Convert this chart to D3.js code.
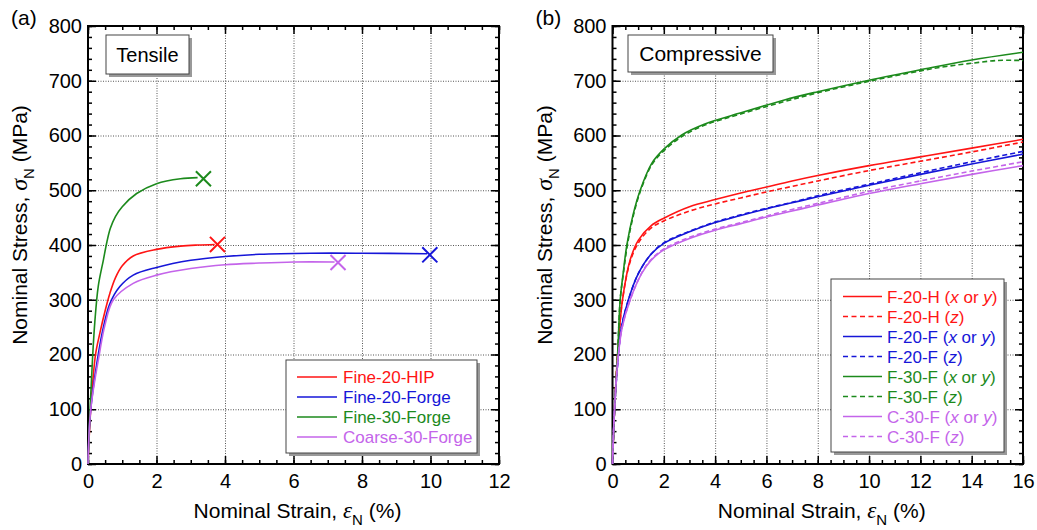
<!DOCTYPE html>
<html>
<head>
<meta charset="utf-8">
<script src="https://cdn.jsdelivr.net/npm/d3@7"></script>
<style>
  body { margin: 0; background: #fff; }
  svg { font-family: "Liberation Sans", Arial, sans-serif; }
</style>
</head>
<body>
<div id="chart"></div>
<script>
// ---- data: [strain %, stress MPa] ----
// (a) tensile
var fine20Hip = [[0,0],[0.08,100],[0.22,200],[0.35,240],[0.5,280],[0.64,312],[0.8,340],[1.0,362],[1.32,380],[2,392],[2.7,398],[3.2,400],[3.7,401]];
var fine20Forge = [[0,0],[0.08,100],[0.3,200],[0.45,250],[0.64,293],[0.93,324],[1.32,345],[2,359],[3,372],[4,379],[5,383],[6.5,385],[8,385],[9.9,384]];
var fine30Forge = [[0,0],[0.06,100],[0.13,190],[0.2,260],[0.3,325],[0.45,373],[0.55,405],[0.65,430],[0.8,452],[1.0,470],[1.42,494],[2,512],[2.7,521],[3.2,523]];
var coarse30Forge = [[0,0],[0.08,100],[0.33,200],[0.5,255],[0.74,300],[1.32,330],[2,345],[3,357],[4,364],[5,367],[6,369],[7.2,369]];
// fracture points (X markers), same order as the tensile series
var tensileBreaks = [[3.78,401],[9.98,382],[3.37,521],[7.3,368]];
var tensileNames = ["Fine-20-HIP", "Fine-20-Forge", "Fine-30-Forge", "Coarse-30-Forge"];

// (b) compressive
var f20hXY = [[0,0],[0.08,100],[0.2,200],[0.39,300],[0.69,373],[1.01,409],[1.5,435],[2,449],[3,470],[4,483],[5,495],[6,506],[7,517],[8,527],[10,545],[12,561],[14,577],[16,593]];
var f20hZ = [[0,0],[0.08,100],[0.2,200],[0.39,300],[0.69,370],[1.01,404],[1.5,431],[2,444],[3,462],[4,475],[5,486],[6,497],[7,507],[8,517],[10,536],[12,553],[14,570],[16,588]];
var f20fXY = [[0,0],[0.08,100],[0.23,200],[0.35,250],[0.62,300],[1.01,348],[1.5,383],[2,403],[3,424],[4,441],[5,454],[6,466],[7,477],[8,488],[10,509],[12,529],[14,548],[16,566]];
var f20fZ = [[0,0],[0.08,100],[0.23,200],[0.35,250],[0.62,300],[1.01,348],[1.5,383],[2,404],[3,425],[4,442],[5,455],[6,467],[7,478],[8,490],[10,511],[12,532],[14,552],[16,571]];
var f30fXY = [[0,0],[0.08,100],[0.2,200],[0.3,300],[0.42,350],[0.56,400],[0.8,455],[1.08,500],[1.53,549],[2,575],[2.7,601],[3.6,621],[4.9,640],[6.7,665],[8,680],[10,701],[12,720],[14,738],[16,752]];
var f30fZ = [[0,0],[0.08,100],[0.2,200],[0.3,300],[0.43,350],[0.58,400],[0.82,455],[1.1,500],[1.55,548],[2,572],[2.7,598],[3.6,619],[4.9,638],[6.7,662],[8,678],[10,699],[12,718],[13,726],[14,732],[15,737],[16,737]];
var c30fXY = [[0,0],[0.08,100],[0.23,200],[0.38,250],[0.69,300],[1.14,348],[1.5,372],[2,391],[3,412],[4,427],[5,439],[6,451],[7,462],[8,473],[10,494],[12,512],[14,529],[16,545]];
var c30fZ = [[0,0],[0.08,100],[0.23,200],[0.38,250],[0.69,300],[1.14,349],[1.5,373],[2,393],[3,414],[4,429],[5,441],[6,453],[7,465],[8,476],[10,498],[12,517],[14,535],[16,552]];
var compNames = ["F-20-H", "F-20-H", "F-20-F", "F-20-F", "F-30-F", "F-30-F", "C-30-F", "C-30-F"];
var compDirs = ["xy", "z", "xy", "z", "xy", "z", "xy", "z"];

// axis ticks
var stressTicks = [0, 100, 200, 300, 400, 500, 600, 700, 800];
var tensileStrainTicks = [0, 2, 4, 6, 8, 10, 12];
var compStrainTicks = [0, 2, 4, 6, 8, 10, 12, 14, 16];

var colors = ["#ff1414", "#1616d8", "#1c8a1c", "#c464ea"];

var W = 1037, H = 530;
var plotTop = 26, plotBottom = 464;

var svg = d3.select("#chart").append("svg").attr("width", W).attr("height", H);

// draws one panel: frame, grid, ticks, labels; returns scales + group
function makePanel(left, right, xMax, xTicks, tag) {
  var x = d3.scaleLinear().domain([0, xMax]).range([left, right]);
  var y = d3.scaleLinear().domain([0, 800]).range([plotBottom, plotTop]);
  var g = svg.append("g");
  var w = right - left, h = plotBottom - plotTop;

  var xMinor = d3.range(0, xMax + 0.001, 0.5);
  var yMinor = d3.range(0, 801, 20);

  // dotted grid
  g.append("g").attr("transform", "translate(0," + plotBottom + ")")
    .call(d3.axisBottom(x).tickValues(xTicks.slice(1, -1)).tickSize(-h).tickFormat(""))
    .call(grid);
  g.append("g").attr("transform", "translate(" + left + ",0)")
    .call(d3.axisLeft(y).tickValues(stressTicks.slice(1, -1)).tickSize(-w).tickFormat(""))
    .call(grid);

  // inward ticks on all four sides
  g.append("g").attr("transform", "translate(0," + plotBottom + ")")
    .call(d3.axisBottom(x).tickValues(xMinor).tickSize(-4).tickFormat("")).call(tk);
  g.append("g").attr("transform", "translate(0," + plotTop + ")")
    .call(d3.axisTop(x).tickValues(xMinor).tickSize(-4).tickFormat("")).call(tk);
  g.append("g").attr("transform", "translate(" + left + ",0)")
    .call(d3.axisLeft(y).tickValues(yMinor).tickSize(-4).tickFormat("")).call(tk);
  g.append("g").attr("transform", "translate(" + right + ",0)")
    .call(d3.axisRight(y).tickValues(yMinor).tickSize(-4).tickFormat("")).call(tk);
  g.append("g").attr("transform", "translate(0," + plotTop + ")")
    .call(d3.axisTop(x).tickValues(xTicks).tickSize(-8).tickFormat("")).call(tk);
  g.append("g").attr("transform", "translate(" + right + ",0)")
    .call(d3.axisRight(y).tickValues(stressTicks).tickSize(-8).tickFormat("")).call(tk);

  // labelled axes
  g.append("g").attr("transform", "translate(0," + plotBottom + ")")
    .call(d3.axisBottom(x).tickValues(xTicks).tickSize(-8).tickPadding(10).tickFormat(d3.format("d")))
    .call(tk).call(lbl);
  g.append("g").attr("transform", "translate(" + left + ",0)")
    .call(d3.axisLeft(y).tickValues(stressTicks).tickSize(-8).tickPadding(6).tickFormat(d3.format("d")))
    .call(tk).call(lbl);

  // frame
  g.append("rect").attr("x", left).attr("y", plotTop).attr("width", w).attr("height", h)
    .style("fill", "none").style("stroke", "#000").style("stroke-width", 2);

  // axis titles
  var xt = g.append("text").attr("x", (left + right) / 2 + 4).attr("y", 518)
    .attr("text-anchor", "middle").style("font-size", "21px").style("fill", "#000");
  xt.append("tspan").text("Nominal Strain, ");
  xt.append("tspan").text("ε").style("font-family", "Liberation Serif, serif").style("font-style", "italic").style("font-size", "23px");
  xt.append("tspan").text("N").attr("dy", 7).style("font-size", "15px");
  xt.append("tspan").text(" (%)").attr("dy", -7);

  var yt = g.append("text").attr("transform", "translate(" + (left - 61) + ",225) rotate(-90)")
    .attr("text-anchor", "middle").style("font-size", "21px").style("fill", "#000");
  yt.append("tspan").text("Nominal Stress, ");
  yt.append("tspan").text("σ").style("font-family", "Liberation Serif, serif").style("font-style", "italic").style("font-size", "24px");
  yt.append("tspan").text("N").attr("dy", 7).style("font-size", "15px");
  yt.append("tspan").text(" (MPa)").attr("dy", -7);

  g.append("text").attr("x", left - 77).attr("y", 25).text(tag)
    .style("font-size", "21px").style("fill", "#000");

  return { x: x, y: y, g: g };
}

function grid(sel) {
  sel.select(".domain").remove();
  sel.selectAll("line").style("stroke", "#555").style("stroke-width", 1).style("stroke-dasharray", "1,1.5");
}
function tk(sel) {
  sel.select(".domain").remove();
  sel.selectAll("line").style("stroke", "#000").style("stroke-width", 1.5);
}
function lbl(sel) {
  sel.selectAll("text").style("font-size", "20px").style("font-family", "Liberation Sans, Arial, sans-serif").style("fill", "#000");
}

function drawCurve(p, data, color, dashed) {
  var line = d3.line()
    .x(function (d) { return p.x(d[0]); })
    .y(function (d) { return p.y(d[1]); })
    .curve(d3.curveCatmullRom.alpha(0.5));
  p.g.append("path").datum(data).attr("d", line)
    .style("fill", "none").style("stroke", color).style("stroke-width", 1.6)
    .style("stroke-dasharray", dashed ? "5,3" : null);
}

// box with a grey drop shadow
function shadowBox(g, x, y, w, h) {
  g.append("rect").attr("x", x + 3).attr("y", y + 3).attr("width", w).attr("height", h).style("fill", "#999");
  g.append("rect").attr("x", x).attr("y", y).attr("width", w).attr("height", h)
    .style("fill", "#fff").style("stroke", "#444").style("stroke-width", 1);
}

// ---- panel (a) tensile ----
var pa = makePanel(88, 499, 12, tensileStrainTicks, "(a)");
var tensileSeries = [fine20Hip, fine20Forge, fine30Forge, coarse30Forge];
tensileSeries.forEach(function (s, i) { drawCurve(pa, s, colors[i], false); });

pa.g.selectAll("path.brk").data(tensileBreaks).enter().append("path").attr("class", "brk")
  .attr("d", d3.symbol().type(d3.symbolX).size(150))
  .attr("transform", function (d) { return "translate(" + pa.x(d[0]) + "," + pa.y(d[1]) + ")"; })
  .style("fill", "none").style("stroke-width", 2)
  .style("stroke", function (d, i) { return colors[i]; });

shadowBox(pa.g, 106, 35, 83, 39);
pa.g.append("text").attr("x", 147.5).attr("y", 62).attr("text-anchor", "middle").text("Tensile")
  .style("font-size", "20px").style("fill", "#000");

shadowBox(pa.g, 286, 360, 191, 93);
tensileNames.forEach(function (name, i) {
  var yy = 377 + i * 20;
  pa.g.append("line").attr("x1", 297).attr("x2", 337).attr("y1", yy).attr("y2", yy)
    .style("stroke", colors[i]).style("stroke-width", 1.6);
  pa.g.append("text").attr("x", 343).attr("y", yy + 6).text(name)
    .style("font-size", "17px").style("fill", colors[i]);
});

// ---- panel (b) compressive ----
var pb = makePanel(612.5, 1023, 16, compStrainTicks, "(b)");
var compSeries = [f20hXY, f20hZ, f20fXY, f20fZ, f30fXY, f30fZ, c30fXY, c30fZ];
compSeries.forEach(function (s, i) {
  drawCurve(pb, s, colors[Math.floor(i / 2)], compDirs[i] == "z");
});

shadowBox(pb.g, 628, 35, 145, 37);
pb.g.append("text").attr("x", 700.5).attr("y", 61).attr("text-anchor", "middle").text("Compressive")
  .style("font-size", "21px").style("fill", "#000");

shadowBox(pb.g, 831, 279, 173, 173);
compNames.forEach(function (name, i) {
  var yy = 296.5 + i * 20;
  var c = colors[Math.floor(i / 2)];
  pb.g.append("line").attr("x1", 843).attr("x2", 882).attr("y1", yy).attr("y2", yy)
    .style("stroke", c).style("stroke-width", 1.6)
    .style("stroke-dasharray", compDirs[i] == "z" ? "5,3.5" : null);
  var t = pb.g.append("text").attr("x", 887).attr("y", yy + 6).style("font-size", "17px").style("fill", c);
  t.append("tspan").text(name + " (");
  if (compDirs[i] == "z") {
    t.append("tspan").text("z").style("font-style", "italic");
  } else {
    t.append("tspan").text("x").style("font-style", "italic");
    t.append("tspan").text(" or ");
    t.append("tspan").text("y").style("font-style", "italic");
  }
  t.append("tspan").text(")");
});
</script>
</body>
</html>
